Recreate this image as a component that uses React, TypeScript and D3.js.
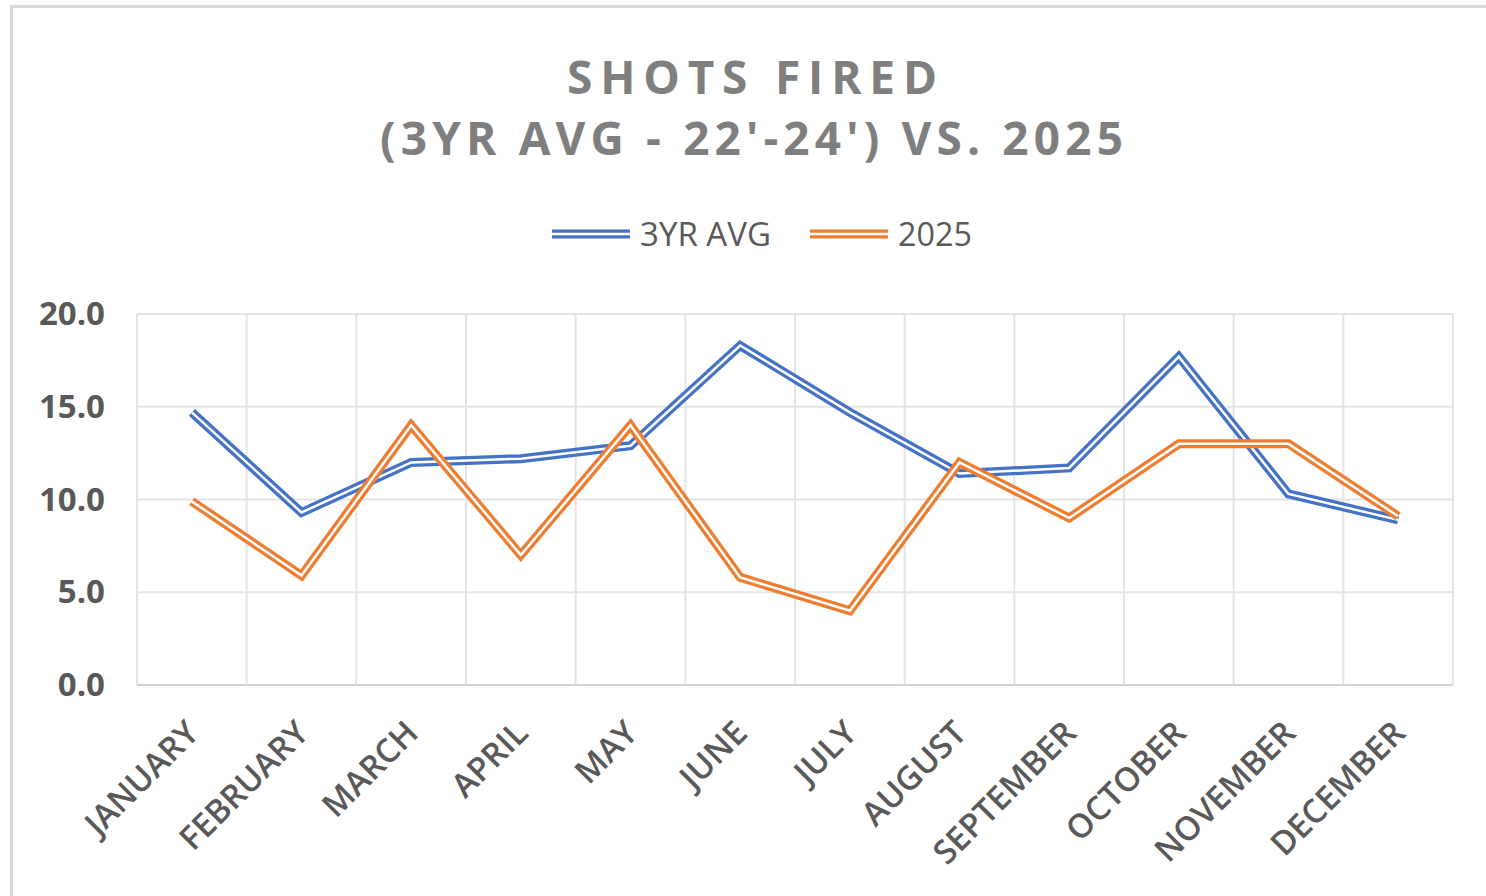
import React from "react";
import * as d3 from "d3";

const months = ["JANUARY","FEBRUARY","MARCH","APRIL","MAY","JUNE","JULY","AUGUST","SEPTEMBER","OCTOBER","NOVEMBER","DECEMBER"];
const avg3yr = [14.7, 9.3, 12.0, 12.2, 12.9, 18.3, 14.7, 11.4, 11.7, 17.7, 10.3, 8.9];
const y2025 = [9.9, 5.9, 14.0, 7.0, 14.0, 5.8, 4.0, 12.0, 9.0, 13.0, 13.0, 9.1];
const yTicks = [0, 5, 10, 15, 20];
const seriesNames = ["3YR AVG", "2025"];
const seriesColors = ["#4472C4", "#ED7D31"];

const W = 1486, H = 896;
const plot = { left: 137, right: 1453, top: 314, bottom: 685 };

export default function App() {
  const x = d3.scaleBand<string>().domain(months).range([plot.left, plot.right]).padding(0);
  const y = d3.scaleLinear().domain([0, 20]).range([plot.bottom, plot.top]);
  const line = d3.line<number>()
    .x((_, i) => (x(months[i]) as number) + x.bandwidth() / 2)
    .y((d) => y(d));
  const series = [avg3yr, y2025];
  const font = "'Open Sans', 'DejaVu Sans', sans-serif";
  const boundaries = months.map((m) => x(m) as number).concat([plot.right]);

  return (
    <svg width={W} height={H} style={{ position: "absolute", left: 0, top: 0, background: "#fff" }}>
      <rect x={0} y={0} width={W} height={H} fill="#fff" />
      <rect x={11.5} y={6.5} width={1600} height={1000} fill="none" stroke="#d9d9d9" strokeWidth={3} />

      {/* Title */}
      <text x={752} y={94} textAnchor="middle" fontFamily={font} fontWeight={700} fontSize={46} fill="#7f7f7f" textLength={370} lengthAdjust="spacing">SHOTS FIRED</text>
      <text x={751.5} y={155} textAnchor="middle" fontFamily={font} fontWeight={700} fontSize={46} fill="#7f7f7f" textLength={743} lengthAdjust="spacing">(3YR AVG - 22'-24') VS. 2025</text>

      {/* Legend */}
      {[{ x0: 552, x1: 630, tx: 640, tl: 131 }, { x0: 810, x1: 888, tx: 898, tl: 74 }].map((lg, i) => (
        <g key={i}>
          <line x1={lg.x0} x2={lg.x1} y1={234} y2={234} stroke={seriesColors[i]} strokeWidth={9} />
          <line x1={lg.x0} x2={lg.x1} y1={234} y2={234} stroke="#fff" strokeWidth={2.5} />
          <text x={lg.tx} y={246} fontFamily={font} fontSize={32} fill="#595959" textLength={lg.tl} lengthAdjust="spacingAndGlyphs">{seriesNames[i]}</text>
        </g>
      ))}

      {/* Gridlines */}
      {yTicks.map((t) => (
        <line key={"h" + t} x1={plot.left} x2={plot.right} y1={y(t)} y2={y(t)} stroke={t === 0 ? "#d0d0d0" : "#e4e4e4"} strokeWidth={2} />
      ))}
      {boundaries.map((bx, i) => (
        <line key={"v" + i} x1={bx} x2={bx} y1={plot.top} y2={plot.bottom} stroke="#e4e4e4" strokeWidth={2} />
      ))}

      {/* Y ticks */}
      {yTicks.map((t) => (
        <text key={"yt" + t} x={105} y={y(t) + 11} textAnchor="end" fontFamily={font} fontWeight={700} fontSize={33} fill="#595959">{t.toFixed(1)}</text>
      ))}

      {/* X labels */}
      {months.map((m) => {
        const cx = (x(m) as number) + x.bandwidth() / 2 + 9;
        const cy = 735;
        return (
          <text key={m} x={cx} y={cy} transform={`rotate(-45 ${cx} ${cy})`} textAnchor="end" fontFamily={font} fontWeight={600} fontSize={33} fill="#595959">{m}</text>
        );
      })}

      {/* Series (double lines) */}
      {series.map((s, i) => (
        <g key={"s" + i}>
          <path d={line(s) as string} fill="none" stroke={seriesColors[i]} strokeWidth={9} strokeLinejoin="miter" />
          <path d={line(s) as string} fill="none" stroke="#fff" strokeWidth={2.5} strokeLinejoin="miter" />
        </g>
      ))}
    </svg>
  );
}
